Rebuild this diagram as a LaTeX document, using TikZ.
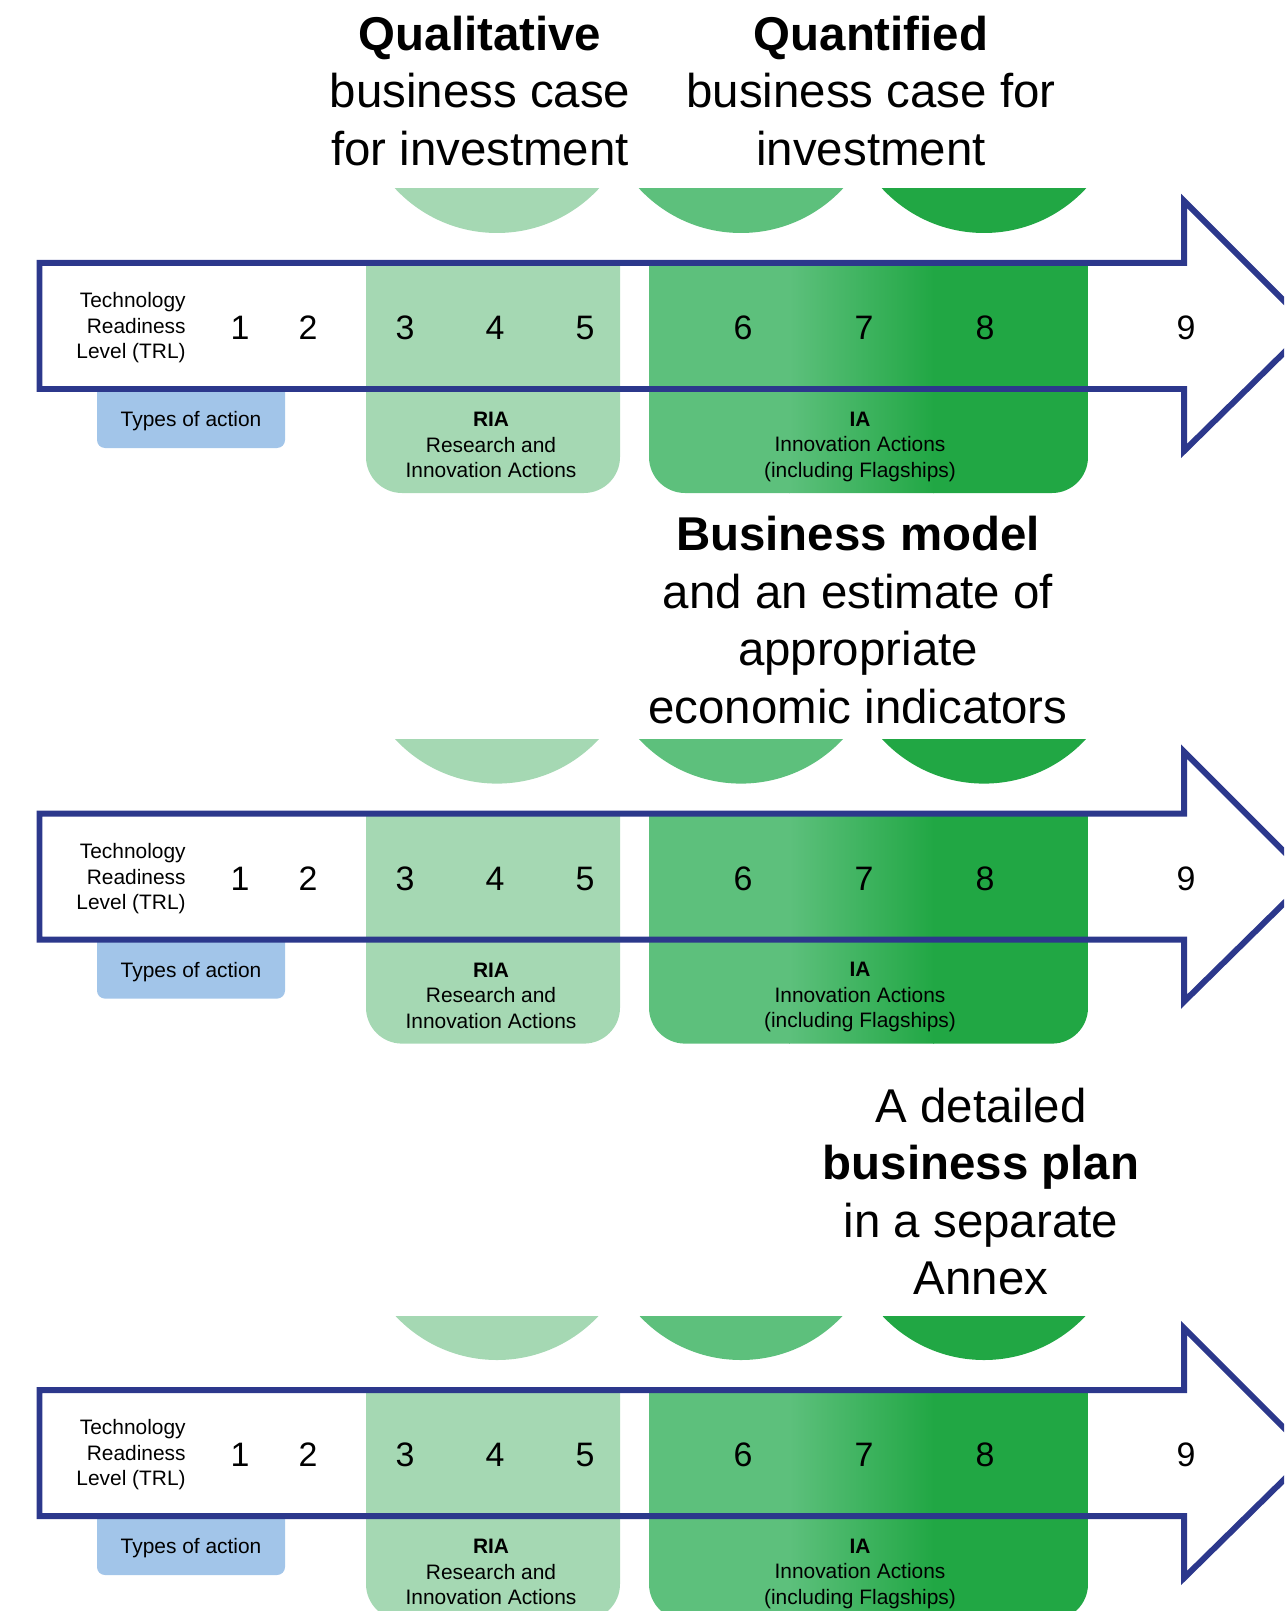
\documentclass[tikz,border=0pt]{standalone}
\usepackage{fontspec}
\setmainfont{Liberation Sans}
\usepackage{tikz}
\usetikzlibrary{calc}
\definecolor{trlblue}{RGB}{44,56,140}
\definecolor{riacol}{RGB}{165,216,179}
\definecolor{iamid}{RGB}{93,192,124}
\definecolor{iadark}{RGB}{33,167,68}
\definecolor{actcol}{RGB}{162,197,233}
% one TRL row: half discs, action blocks, arrow, numbers
\newcommand{\trlrow}[1]{%
  \begin{scope}
    \clip (0,189) rectangle (1284,240);
    \fill[riacol] (497,94) circle (139);
    \fill[iamid] (741,94) circle (139);
    \fill[iadark] (984,94) circle (139);
  \end{scope}
  \fill[riacol] (366,263) [rounded corners=0.72cm] -- (366,493) -- (620,493) [sharp corners] -- (620,263) -- cycle;
  \begin{scope}
    \clip (649,263) [rounded corners=0.72cm] -- (649,493) -- (1088,493) [sharp corners] -- (1088,263) -- cycle;
    \fill[iamid] (649,263) rectangle (790,500);
    \shade[left color=iamid,right color=iadark] (789,263) rectangle (934,500);
    \fill[iadark] (933,263) rectangle (1088,500);
  \end{scope}
  \fill[actcol] (97,388) [rounded corners=0.16cm] -- (97,448) -- (285,448) [sharp corners] -- (285,388) -- cycle;
  \draw[trlarrow] (39.5,263) -- (1184,263) -- (1184,201) -- (1310,327) -- (1184,451) -- (1184,389) -- (39.5,389) -- cycle;
  \node[smalltxt,anchor=east,align=right] (trl-#1) at (186,328) {Technology\\ Readiness\\ Level (TRL)};
  \foreach \n/\xx in {1/240,2/308,3/405,4/495,5/585,6/743,7/864,8/985,9/1186}
    \node[trlnum] (lvl\n-#1) at (\xx,328) {\n};
  \node[smalltxt] (act-#1) at (191,421) {Types of action};
  \node[smalltxt,align=center] (ria-#1) at (491,445) {\textbf{RIA}\\ Research and\\ Innovation Actions};
  \node[smalltxt,align=center] (ia-#1) at (860,446.5) {\textbf{IA}\\ Innovation Actions\\ (including Flagships)};
}

\begin{document}
\begin{tikzpicture}[x=0.02cm,y=-0.02cm,
  trlarrow/.style={draw=trlblue,line width=0.12cm},
  smalltxt/.style={font=\fontsize{11.9}{14.5}\selectfont,inner sep=0pt},
  trlnum/.style={font=\fontsize{19.3}{22}\selectfont,inner sep=0pt},
  headtxt/.style={font=\fontsize{27}{32.7}\selectfont,align=center,inner sep=0pt}]
\clip (0,0) rectangle (1284,1611);
% ---- top: business case ----
\begin{scope}
\trlrow{a}
\node[headtxt] (qual) at (480,91) {\textbf{Qualitative}\\ business case\\ for investment};
\node[headtxt] (quant) at (871,91) {\textbf{Quantified}\\ business case for\\ investment};
\end{scope}
% ---- middle: business model ----
\begin{scope}[shift={(0,550.6)}]
\trlrow{b}
\node[headtxt] (bmodel) at (858,69.5) {\textbf{Business model}\\ and an estimate of\\ appropriate\\ economic indicators};
\end{scope}
% ---- bottom: business plan ----
\begin{scope}[shift={(0,1127)}]
\trlrow{c}
\node[headtxt] (bplan) at (981,64.5) {A detailed\\ \textbf{business plan}\\ in a separate\\ Annex};
\end{scope}
\end{tikzpicture}
\end{document}
